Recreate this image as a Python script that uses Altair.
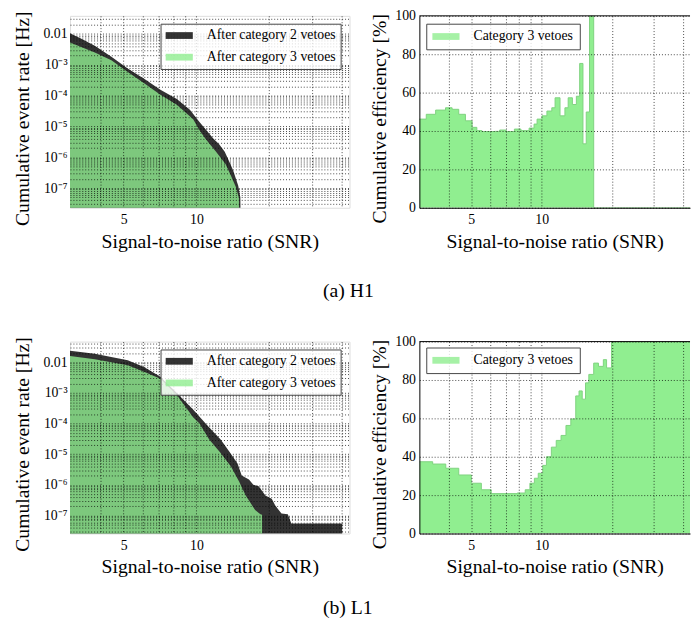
import altair as alt
import pandas as pd

FONT = "Liberation Serif"
S2 = "After category 2 vetoes"
S3 = "After category 3 vetoes"
SE = "Category 3 vetoes"

# ---------------- data ----------------
# H1 cumulative event rate [Hz] vs SNR
h1_cat2_snr = [3.0, 3.36, 3.8, 4.45, 5.2, 6.08, 7.1, 8.3, 9.4, 10.3, 11.0, 11.8, 12.4, 13.1, 13.6, 14.2, 14.9, 15.2, 15.35]
h1_cat2_rate = [1.05e-2, 6.8e-3, 4.1e-3, 1.8e-3, 7.5e-4, 3.5e-4, 1.55e-4, 7.7e-5, 3.5e-5, 1.4e-5, 7.5e-6, 3.9e-6, 2.7e-6, 1.5e-6, 8e-7, 3.7e-7, 1.2e-7, 5e-8, 1e-10]
h1_cat3_snr = [3.0, 3.8, 4.45, 5.2, 6.08, 7.1, 8.3, 9.7, 10.3, 10.9, 12.06, 13.2, 13.9, 14.55, 15.0, 15.05]
h1_cat3_rate = [5.3e-3, 2.5e-3, 1.4e-3, 5.8e-4, 2.5e-4, 1.06e-4, 5e-5, 1.7e-5, 7.5e-6, 4e-6, 1.5e-6, 6e-7, 2.5e-7, 1.1e-7, 4.8e-8, 1e-10]

# L1 cumulative event rate [Hz] vs SNR
l1_cat2_snr = [3.0, 3.8, 5.2, 6.07, 7.1, 8.3, 9.69, 11.3, 12.6, 13.7, 14.8, 15.4, 16.5, 17.2, 18.1, 19.3, 20.5, 21.2, 22.5, 23.9, 24.7, 40.1, 40.15]
l1_cat2_rate = [0.024, 0.019, 0.0116, 7.1e-3, 3.4e-3, 1.0e-3, 2.9e-4, 7.5e-5, 3.0e-5, 1.2e-5, 5e-6, 2e-6, 1.5e-6, 1e-6, 9e-7, 4.5e-7, 3.5e-7, 2.1e-7, 1.15e-7, 1.1e-7, 5.5e-8, 5.5e-8, 1e-10]
l1_cat3_snr = [3.0, 3.8, 5.2, 6.07, 7.1, 8.3, 9.69, 10.3, 11.3, 12.6, 13.9, 15.0, 16.0, 17.5, 18.4, 18.7, 18.72]
l1_cat3_rate = [0.016, 0.0125, 8e-3, 4.9e-3, 2.9e-3, 8.5e-4, 1.6e-4, 1.0e-4, 3.0e-5, 1.1e-5, 4e-6, 1.3e-6, 4.5e-7, 1.5e-7, 1.1e-7, 1.05e-7, 1e-10]

# Cumulative efficiency [%] (step histogram)
h1_eff_snr = [3.0, 3.21, 3.52, 3.88, 4.14, 4.42, 4.72, 5.04, 5.28, 5.55, 6.30, 6.61, 7.05, 7.64, 8.15, 8.83, 9.27,
              9.55, 10.02, 10.52, 11.04, 11.40, 11.97, 12.56, 12.97, 13.52, 14.06, 14.52, 15.0, 15.49, 16.0, 16.67, 43.0]
h1_eff_pct = [46.2, 48.7, 50.9, 52.1, 51.3, 48.7, 45.3, 41.9, 40.2, 39.7, 39.8, 40.5, 39.7, 41.0, 40.2, 41.5, 43.6,
              46.2, 47.9, 50.4, 52.1, 57.3, 47.9, 52.1, 57.3, 53.8, 58.1, 75.2, 33.3, 49.9, 100, 0, 0]
l1_eff_snr = [3.0, 3.42, 3.89, 4.42, 5.0, 5.52, 6.08, 6.9, 7.85, 8.5, 8.9, 9.3, 9.66, 10.1, 10.47, 10.99, 11.53,
              12.09, 12.69, 13.31, 13.97, 14.43, 14.89, 15.38, 15.89, 16.67, 17.47, 18.33, 18.92, 19.86, 43.0]
l1_eff_pct = [37.4, 36.2, 34.0, 30.5, 26.2, 22.8, 20.8, 20.8, 21.1, 22.8, 26.2, 28.8, 31.4, 35.5, 40.0, 45.0, 48.5,
              51.1, 56.3, 59.7, 71.7, 74.3, 70.0, 78.5, 82.9, 88.8, 87.1, 90.6, 86.3, 100, 100]

# axis / tick settings
X_DOMAIN = [3, 43]
X_GRID = [4, 5, 6, 7, 8, 9, 10, 20, 30, 40]
X_LABELS = [5, 10]
H1_RATE_DOMAIN = [2.3e-8, 0.0385]
L1_RATE_DOMAIN = [2.57e-8, 0.0475]
RATE_MAJORS = [1e-8, 1e-7, 1e-6, 1e-5, 1e-4, 1e-3, 1e-2]
RATE_LABELS = ["10⁻⁸", "10⁻⁷", "10⁻⁶", "10⁻⁵", "10⁻⁴", "10⁻³", "0.01"]
EFF_TICKS = [0, 20, 40, 60, 80, 100]
BASE = 1e-10
SWATCH = "M-2,-0.5H2V0.5H-2Z"

PW, PW_R, PH = 284, 275, 195
Y_TITLE_POS = 104


def rate_ticks(dom):
    return [m * d for d in RATE_MAJORS for m in range(1, 10) if dom[0] <= m * d <= dom[1]]


rate_label_expr = "".join(
    f"datum.value === {repr(v)} ? '{t}' : " for v, t in zip(RATE_MAJORS, RATE_LABELS)
) + "''"
x_label_expr = " || ".join(f"datum.value === {v}" for v in X_LABELS) + " ? '' + datum.value : ''"

grid_style = dict(grid=True, gridColor="#000000", gridOpacity=0.8, gridDash=[1, 2], gridWidth=0.9)
text_style = dict(labelFont=FONT, labelFontSize=14, labelColor="#000000", titleFont=FONT,
                  titleFontSize=20, titleFontWeight="normal", titleColor="#000000",
                  ticks=False, labelFlush=False, labelOverlap=False, zindex=1)


def x_axis(domain_line):
    return alt.Axis(values=X_GRID, labelExpr=x_label_expr, title="Signal-to-noise ratio (SNR)",
                    labelPadding=5, titlePadding=5, domain=domain_line, domainColor="#000000",
                    **grid_style, **text_style)


def eff_y_axis():
    return alt.Axis(values=EFF_TICKS, title="Cumulative efficiency [%]", labelPadding=4,
                    titlePadding=5, titleY=Y_TITLE_POS, domain=True, domainColor="#000000",
                    **grid_style, **text_style)


def legend(x, y, pad):
    return alt.Legend(title=None, orient="none", legendX=x, legendY=y, symbolType=SWATCH,
                      symbolSize=190, symbolOffset=7, symbolOpacity=0.8, symbolStrokeWidth=0,
                      labelFont=FONT, labelFontSize=14, labelColor="#000000", labelOffset=21,
                      padding=pad, rowPadding=8, strokeColor="#444444",
                      fillColor="rgba(255,255,255,0.8)", cornerRadius=0, zindex=2, labelLimit=400)


def rate_panel(c2x, c2y, c3x, c3y, ydom, leg_y, caption, cap_offset):
    d2 = pd.DataFrame({"snr": c2x, "rate": c2y, "series": S2})
    d3 = pd.DataFrame({"snr": c3x, "rate": c3y, "series": S3})
    d2["base"] = BASE
    d3["base"] = BASE
    xenc = alt.X("snr:Q", scale=alt.Scale(type="log", domain=X_DOMAIN, nice=False), axis=x_axis(False))
    yenc = alt.Y("rate:Q", stack=False,
                 scale=alt.Scale(type="log", domain=ydom, nice=False),
                 axis=alt.Axis(values=rate_ticks(ydom), labelExpr=rate_label_expr,
                               title="Cumulative event rate [Hz]", labelPadding=3, titlePadding=11,
                               titleY=Y_TITLE_POS, domain=False, **grid_style, **text_style))
    color = alt.Color("series:N", scale=alt.Scale(domain=[S2, S3], range=["#000000", "#90EE90"]),
                      legend=legend(92, leg_y, 5))
    l2 = alt.Chart(d2).mark_area(opacity=0.8, clip=True).encode(x=xenc, y=yenc, y2="base:Q", color=color)
    l3 = alt.Chart(d3).mark_area(opacity=0.8, clip=True).encode(x=xenc, y=yenc, y2="base:Q", color=color)
    return alt.layer(l2, l3).properties(
        width=PW, height=PH,
        title=alt.TitleParams(caption, orient="bottom", anchor="start", frame="group", dx=257,
                              offset=cap_offset, font=FONT, fontSize=20, fontWeight="normal",
                              color="#000000"))


def eff_panel(xs, ys, leg_y):
    d = pd.DataFrame({"snr": xs, "eff": ys, "series": SE})
    xenc = alt.X("snr:Q", scale=alt.Scale(type="log", domain=X_DOMAIN, nice=False), axis=x_axis(True))
    yscale = alt.Scale(domain=[0, 100], nice=False)
    yenc = alt.Y("eff:Q", stack=False, scale=yscale, axis=eff_y_axis())
    color = alt.Color("series:N", scale=alt.Scale(domain=[SE], range=["#90EE90"]), legend=legend(7, leg_y, 6))
    area = alt.Chart(d).mark_area(interpolate="step-after", clip=True).encode(x=xenc, y=yenc, color=color)
    line = alt.Chart(d).mark_line(interpolate="step-after", clip=True, color="#7fd27f", strokeWidth=1).encode(
        x=xenc, y=yenc)
    top = alt.Chart(pd.DataFrame({"edge": [100]})).mark_rule(color="#000000", strokeWidth=1).encode(
        y=alt.Y("edge:Q", scale=yscale, axis=eff_y_axis()))
    return alt.layer(area, line, top).properties(
        width=PW_R, height=PH, view=alt.ViewBackground(stroke="transparent"))


tl = rate_panel(h1_cat2_snr, h1_cat2_rate, h1_cat3_snr, h1_cat3_rate, H1_RATE_DOMAIN, 8, "(a) H1", 31)
tr = eff_panel(h1_eff_snr, h1_eff_pct, 8)
bl = rate_panel(l1_cat2_snr, l1_cat2_rate, l1_cat3_snr, l1_cat3_rate, L1_RATE_DOMAIN, 8, "(b) L1", 22)
br = eff_panel(l1_eff_snr, l1_eff_pct, 6)

chart = alt.concat(
    tl, tr, bl, br, columns=2, spacing={"row": 136, "column": 71}, bounds="flush",
    padding={"left": 4, "top": -5, "right": 0, "bottom": 2},
).resolve_scale(color="independent", x="independent", y="independent").resolve_legend(
    color="independent"
).configure_view(stroke="#000000", strokeWidth=1).configure(font=FONT)

chart.save("out.html", embed_options={"renderer": "svg", "actions": False})
